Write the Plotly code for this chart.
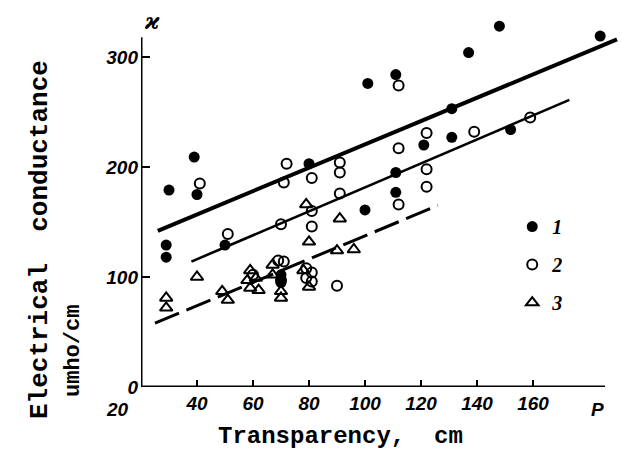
import plotly.graph_objects as go

# Series 1 (filled circles)
s1_x = [30, 39, 40, 29, 29, 50, 70, 70, 80, 100, 101, 111, 111, 111, 121, 131, 131, 137, 148, 152, 184]
s1_y = [179, 209, 175, 129, 118, 129, 102, 95, 203, 161, 276, 284, 195, 177, 220, 253, 227, 304, 328, 234, 319]

# Series 2 (open circles)
s2_x = [41, 51, 60, 69, 71, 70, 70, 72, 71, 79, 81, 79, 81, 81, 81, 81, 91, 91, 91, 90, 112, 112, 112, 122, 122, 122, 139, 159]
s2_y = [185, 139, 102, 115, 114, 97, 148, 203, 186, 108, 104, 99, 96, 146, 160, 190, 204, 195, 176, 92, 274, 217, 166, 231, 198, 182, 232, 245]

# Series 3 (open triangles)
s3_x = [29, 29, 40, 49, 51, 59, 58, 61, 59, 62, 67, 67, 70, 70, 78, 80, 79, 80, 91, 90, 96]
s3_y = [81, 72, 100, 87, 79, 106, 97, 99, 90, 88, 111, 102, 87, 81, 106, 91, 166, 132, 153, 124, 125]

# Regression lines (end points)
fit1_x = [26, 190]
fit1_y = [142, 316]
fit2_x = [38, 173]
fit2_y = [114, 261]
fit3_x = [25, 126]
fit3_y = [58, 165]

x_ticks = [40, 60, 80, 100, 120, 140, 160]
y_ticks = [0, 100, 200, 300]
legend_names = ["1", "2", "3"]

# visible axis extents
x_axis_end = 185.7
y_axis_end = 318

tick_font = dict(family="Liberation Sans Narrow, Liberation Sans, Arial", size=19,
                 color="black", weight="bold", style="italic")
mono = "Liberation Mono, DejaVu Sans Mono, monospace"

fig = go.Figure()

fig.add_trace(go.Scatter(x=fit1_x, y=fit1_y, mode="lines", showlegend=False,
                         line=dict(color="black", width=4)))
fig.add_trace(go.Scatter(x=fit2_x, y=fit2_y, mode="lines", showlegend=False,
                         line=dict(color="black", width=2.6)))
fig.add_trace(go.Scatter(x=fit3_x, y=fit3_y, mode="lines", showlegend=False,
                         line=dict(color="black", width=3, dash="26px,8px")))

fig.add_trace(go.Scatter(x=s1_x, y=s1_y, mode="markers", name=legend_names[0],
                         legendgroup="a", cliponaxis=False,
                         marker=dict(symbol="circle", size=11, color="black")))
fig.add_trace(go.Scatter(x=s2_x, y=s2_y, mode="markers", name=legend_names[1],
                         legendgroup="b", cliponaxis=False,
                         marker=dict(symbol="circle-open", size=10, color="black",
                                     line=dict(width=2, color="black"))))
fig.add_trace(go.Scatter(x=s3_x, y=s3_y, mode="markers", name=legend_names[2],
                         legendgroup="c", cliponaxis=False,
                         marker=dict(symbol="triangle-up-open", size=11, color="black",
                                     line=dict(width=2, color="black"))))

fig.update_layout(
    width=622, height=450, autosize=False,
    margin=dict(l=141, r=2, t=13, b=63),
    paper_bgcolor="white", plot_bgcolor="white",
    showlegend=True,
    legend=dict(x=0.775, y=0.481, xanchor="left", yanchor="top",
                font=dict(family="Liberation Serif, serif", size=20, color="black",
                          style="italic", weight="bold"),
                traceorder="grouped", tracegroupgap=9,
                bgcolor="rgba(0,0,0,0)", itemwidth=30),
    xaxis=dict(range=[20, 191.07], showgrid=False, zeroline=False,
               showline=False,
               ticks="inside", ticklen=7, tickwidth=2, tickcolor="black",
               tickvals=x_ticks, ticktext=[str(v) for v in x_ticks],
               tickfont=tick_font, ticklabelstandoff=3),
    yaxis=dict(range=[0, 340], showgrid=False, zeroline=False,
               showline=False,
               ticks="inside", ticklen=9, tickwidth=2, tickcolor="black",
               tickvals=y_ticks, ticktext=[str(v) for v in y_ticks],
               tickfont=tick_font, ticklabelstandoff=2),
)

# axis lines
fig.add_shape(type="line", xref="x", yref="y", x0=20, y0=0, x1=x_axis_end, y1=0,
              line=dict(color="black", width=3))
fig.add_shape(type="line", xref="x", yref="y", x0=20, y0=0, x1=20, y1=y_axis_end,
              line=dict(color="black", width=3))

# extra axis labels
fig.add_annotation(x=20, y=0, xref="x", yref="y", text="20", showarrow=False,
                   font=tick_font, xshift=-24, yshift=-22)
fig.add_annotation(x=183, y=0, xref="x", yref="y", text="P", showarrow=False,
                   font=tick_font, yshift=-22)
fig.add_annotation(x=24, y=333, xref="x", yref="y", text="ϰ", showarrow=False,
                   font=dict(family="DejaVu Serif, serif", size=22, color="black",
                             style="italic", weight="bold"))

# axis titles
fig.add_annotation(x=0, y=0, xref="paper", yref="paper", showarrow=False,
                   text="Electrical  conductance", textangle=-90,
                   xanchor="center", yanchor="middle",
                   xshift=40 - 141, yshift=387 - 240,
                   font=dict(family=mono, size=26, color="black", weight="bold"))
fig.add_annotation(x=0, y=0, xref="paper", yref="paper", showarrow=False,
                   text="umho/cm", textangle=-90,
                   xanchor="center", yanchor="middle",
                   xshift=73 - 141, yshift=387 - 351,
                   font=dict(family=mono, size=22, color="black", weight="bold"))
fig.add_annotation(x=0, y=0, xref="paper", yref="paper", showarrow=False,
                   text="Transparency,  cm",
                   xanchor="center", yanchor="middle",
                   xshift=340 - 141, yshift=387 - 436,
                   font=dict(family=mono, size=24, color="black", weight="bold"))

fig.write_html("out.html")
